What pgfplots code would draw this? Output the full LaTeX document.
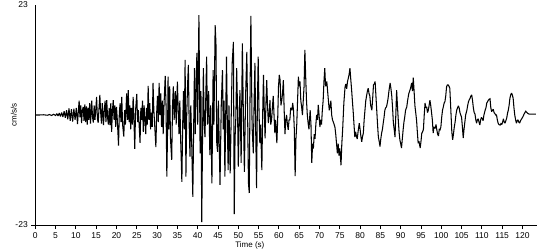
\documentclass[border=0pt]{standalone}
\usepackage{pgfplots}
\pgfplotsset{compat=1.18}
\usepackage{fontspec}
\setmainfont{Liberation Sans}
\begin{document}
\begin{tikzpicture}
\begin{axis}[
  scale only axis,
  width=501.4pt, height=220pt,
  xmin=0, xmax=123.5, ymin=-23, ymax=23,
  axis x line=bottom, axis y line=left,
  axis line style={-, line width=0.8pt},
  xtick={0,5,...,120},
  ytick={-23},
  yticklabels={-23},
  extra y ticks={23},
  extra y tick labels={23},
  extra y tick style={major tick length=0pt, yticklabel style={xshift=-4pt}},
  tick align=outside,
  major tick length=4pt,
  tick style={black, line width=0.8pt},
  every tick label/.append style={font=\fontsize{8.5}{9}\selectfont},
  /pgf/number format/assume math mode=true,
  xlabel={Time (s)},
  ylabel={cm/s/s},
  label style={font=\fontsize{8}{9}\selectfont},
  xlabel style={at={(axis description cs:0.428,0)}, anchor=center, yshift=-20pt},
  ylabel style={at={(axis description cs:0,0.5)}, anchor=center, yshift=21.5pt},
  clip=false,
]
\addplot[black, line width=1.05pt, line join=miter, miter limit=2] table {
0 0
1 0
2 0.05
3 -0.05
3.5 0.1
4 -0.1
4.5 0.15
5 -0.1
5.3 0.3
5.6 -0.2
5.9 0.4
6.2 -0.3
6.5 0.5
6.8 -0.4
7.1 0.8
7.4 -0.6
7.7 1.0
8.0 -0.9
8.3 1.4
8.6 -1.2
8.9 1.2
9.2 -1.4
9.5 1.3
9.8 -1.0
10.1 1.5
10.4 -1.9
10.6 0.8
10.8 3.0
11.0 -0.5
11.2 2.0
11.4 -1.7
11.6 1.0
11.8 1.7
12.0 -1.2
12.2 2.2
12.4 -1.5
12.6 1.8
12.8 -2.0
13.0 1.5
13.2 -1.0
13.4 2.5
13.6 -1.8
13.9 3.0
14.1 -0.5
14.3 -1.6
14.5 2.0
14.7 -1.0
14.9 1.2
15.1 3.8
15.3 -0.8
15.5 -1.6
15.7 1.5
15.9 4.2
16.1 0.5
16.3 -1.8
16.5 2.5
16.8 -2.1
17.0 1.0
17.2 3.0
17.4 -1.5
17.6 3.1
17.8 -0.5
18.0 -2.0
18.2 1.5
18.4 -2.1
18.6 2.5
18.8 -3.5
19.0 1.0
19.2 3.1
19.4 -1.0
19.6 2.0
19.8 -2.5
20.0 1.7
20.2 -1.0
20.5 -6.4
20.7 0.5
20.9 2.5
21.1 -1.5
21.3 3.8
21.5 -2.0
21.8 -4.5
22.0 1.0
22.2 -2.0
22.5 4.5
22.7 -1.0
22.9 5.2
23.1 -1.5
23.3 2.0
23.5 -3.0
23.7 1.5
23.9 -2.0
24.1 3.8
24.3 -1.0
24.5 -7.1
24.7 1.0
25.0 4.4
25.2 -1.5
25.4 1.0
25.6 -2.5
25.8 -5.8
26.0 1.5
26.2 -1.0
26.4 3.0
26.6 -3.5
26.8 2.0
27.0 -1.0
27.2 -4.0
27.4 1.5
27.6 -2.0
27.8 6.1
28.0 -1.0
28.2 2.5
28.4 -3.0
28.6 0.5
28.8 -2.5
29.0 6.7
29.2 1.0
29.4 -2.0
29.7 -6.7
29.9 0.5
30.1 4.0
30.3 -1.5
30.5 6.7
30.7 0.0
30.9 4.5
31.1 -2.5
31.3 3.0
31.5 -4.0
31.7 2.0
32.0 8.2
32.2 2.0
32.4 -12.9
32.6 -2.0
32.7 8.0
32.9 -3.0
33.1 6.0
33.3 -5.0
33.6 -9.4
33.8 2.0
34.0 6.0
34.2 -1.0
34.5 5.0
34.7 -2.0
35.0 7.0
35.2 1.0
35.4 -4.0
35.6 3.0
35.8 -5.0
36.1 -14.0
36.3 -2.0
36.5 5.0
36.7 -3.0
36.9 11.5
37.1 -12.9
37.3 0.0
37.5 6.0
37.7 10.5
37.9 -2.0
38.1 -8.7
38.3 2.0
38.5 -5.0
38.8 -17.1
39.0 -3.0
39.2 9.8
39.4 -4.0
39.6 6.0
39.8 13.0
40.0 -2.0
40.3 20.9
40.6 -8.0
40.8 5.0
41.0 -22.4
41.2 -4.0
41.4 9.8
41.6 -2.0
41.8 -4.6
42.0 4.0
42.2 12.2
42.4 -2.0
42.7 5.0
43.0 -8.4
43.2 2.0
43.5 -14.3
43.8 9.4
44.0 -2.0
44.3 18.8
44.5 15.0
44.7 -5.9
44.9 -7.7
45.1 3.0
45.3 -6.0
45.5 -14.6
45.8 2.0
46.1 9.4
46.3 -3.0
46.5 3.0
46.7 -12.9
46.9 0.0
47.1 12.2
47.3 -2.0
47.5 -11.5
47.7 2.0
48.0 -12.2
48.2 -3.0
48.5 10.9
48.8 15.3
49.0 -20.7
49.2 -5.0
49.4 -0.4
49.6 9.8
49.8 2.0
50.0 -10.8
50.2 -2.0
50.4 5.2
50.7 -10.0
51.0 15.0
51.2 3.0
51.5 -11.9
51.8 4.0
52.1 13.2
52.3 0.0
52.5 -14.2
52.7 -16.3
52.9 5.0
53.1 20.7
53.4 -2.5
53.7 -8.0
53.9 3.0
54.1 10.9
54.3 -4.0
54.5 -15.3
54.7 2.0
54.9 12.2
55.1 1.0
55.3 -5.9
55.5 -2.0
55.8 -11.5
56.0 0.0
56.2 8.4
56.4 1.0
56.6 -4.9
56.8 2.0
57.0 7.3
57.2 2.0
57.4 -1.7
57.6 0.0
57.8 3.1
58.0 -2.0
58.2 -1.0
58.4 1.5
58.6 4.0
58.8 0.0
59.0 -3.8
59.2 -1.0
59.5 -5.9
59.7 -1.0
59.9 5.9
60.1 8.4
60.3 7.3
60.5 2.0
60.7 3.0
60.9 4.5
61.1 7.3
61.3 1.0
61.5 -4.0
61.7 -1.0
61.9 0.0
62.1 -2.0
62.3 -3.1
62.5 -1.0
62.7 -1.0
62.9 1.5
63.2 1.0
63.4 2.5
63.6 1.0
63.8 -3.0
64.0 -12.8
64.2 -5.0
64.4 -2.0
64.6 3.0
64.8 8.0
65.0 6.0
65.2 7.0
65.4 3.0
65.6 1.7
65.8 0.0
66.0 3.0
66.2 6.0
66.4 13.6
66.6 8.0
66.8 3.0
67.0 0.0
67.2 -1.7
67.4 -3.0
67.7 1.0
67.9 -2.0
68.1 -10.0
68.3 -6.0
68.5 -7.0
68.7 -4.0
68.9 -5.0
69.1 -2.0
69.3 0.0
69.5 -1.0
69.7 2.1
69.9 0.0
70.1 -2.5
70.3 -1.0
70.5 -2.0
70.7 1.0
70.9 3.0
71.1 7.0
71.3 9.8
71.5 6.0
71.8 7.0
72.0 5.0
72.2 3.0
72.4 1.0
72.6 1.7
72.8 3.0
73.0 0.0
73.2 -1.0
73.5 -1.7
73.8 -2.5
74.0 -4.0
74.2 -6.0
74.4 -8.0
74.6 -6.0
74.8 -8.5
75.0 -7.0
75.3 -10.5
75.5 -6.0
75.7 -3.1
76.0 2.5
76.3 5.9
76.5 6.5
76.7 5.5
76.9 7.0
77.1 7.7
77.3 8.5
77.5 9.8
77.7 7.5
77.9 5.4
78.1 3.0
78.3 0.7
78.5 -2.0
78.7 -4.6
78.9 -3.5
79.1 -4.5
79.3 -5.0
79.5 -3.5
79.8 -1.7
80.0 -3.0
80.2 -4.5
80.4 -5.6
80.6 -4.5
80.8 -3.8
81.0 -1.0
81.2 1.0
81.4 3.0
81.6 4.0
81.8 5.0
82.0 5.6
82.2 4.5
82.4 4.0
82.6 2.0
82.9 1.0
83.1 3.5
83.3 6.3
83.5 6.5
83.7 7.0
83.9 4.0
84.1 1.0
84.3 -2.0
84.5 -4.6
84.7 -5.5
84.9 -6.6
85.1 -5.0
85.3 -3.8
85.5 -3.0
85.7 -1.7
85.9 -0.5
86.1 1.0
86.3 1.5
86.5 1.7
86.7 2.5
86.9 3.5
87.1 5.0
87.4 6.7
87.6 5.5
87.8 4.0
88.0 1.5
88.2 -1.7
88.4 -3.0
88.6 -4.6
88.8 0.0
89.0 5.2
89.2 2.0
89.4 -1.0
89.6 -3.5
89.8 -5.2
90.0 -6.0
90.2 -6.9
90.4 -5.0
90.6 -3.1
90.8 -1.5
91.0 -0.4
91.2 1.0
91.5 1.7
91.7 3.0
92.0 4.5
92.2 5.0
92.4 5.5
92.7 6.7
92.9 5.0
93.1 7.8
93.3 5.0
93.5 2.0
93.7 0.5
93.9 -1.0
94.1 -3.5
94.3 -5.9
94.5 -5.5
94.8 -6.9
95.0 -5.5
95.2 -3.8
95.4 -3.5
95.6 -3.0
95.8 0.0
96.0 2.5
96.2 1.5
96.4 1.7
96.6 0.5
96.8 1.0
97.0 2.0
97.2 3.1
97.4 2.0
97.6 0.5
97.8 -1.0
98.0 -3.8
98.2 -2.5
98.5 -2.8
98.7 -2.0
98.9 -3.1
99.1 -4.0
99.3 -4.4
99.5 -3.0
99.7 -3.1
99.9 -2.5
100.1 -0.5
100.3 1.0
100.5 1.7
100.7 2.5
100.9 2.8
101.1 4.0
101.3 5.9
101.5 6.3
101.7 6.3
101.9 6.0
102.1 5.6
102.3 2.0
102.6 -3.6
102.8 -5.2
103.0 -4.0
103.2 -2.5
103.4 -1.5
103.6 0.0
103.8 1.0
104.0 1.5
104.2 1.9
104.4 1.5
104.6 0.5
104.8 0.0
105.0 -0.5
105.2 -2.5
105.4 -4.8
105.6 -3.0
105.8 -1.5
106.0 0.0
106.3 1.0
106.5 2.0
106.7 2.8
106.9 3.2
107.1 3.5
107.3 4.0
107.5 4.2
107.7 3.0
107.9 1.5
108.1 0.5
108.3 0.2
108.5 -1.0
108.7 -1.7
108.9 -1.0
109.1 -0.8
109.3 -1.5
109.5 -2.1
109.7 -1.0
109.9 -0.5
110.1 -0.8
110.3 -1.2
110.5 0.0
110.8 1.0
111.0 1.5
111.2 2.5
111.4 2.8
111.6 3.1
111.8 3.3
112.0 3.4
112.2 1.5
112.4 0.7
112.6 1.0
112.8 1.2
113.0 0.5
113.2 0.3
113.4 0.0
113.6 0.0
113.8 -1.0
114.0 -1.7
114.2 -2.0
114.5 -2.1
114.7 -1.8
114.9 -2.0
115.1 -1.5
115.3 -0.8
115.5 -1.5
115.7 -1.7
115.9 -1.2
116.1 -0.7
116.3 0.3
116.5 1.0
116.7 2.0
116.9 3.5
117.1 4.2
117.3 4.6
117.5 4.2
117.7 3.5
117.9 1.5
118.1 0.0
118.3 -1.0
118.5 -1.7
118.7 -1.2
118.9 -1.0
119.1 -1.5
119.3 -1.7
119.5 -1.2
119.8 -0.8
120.0 -0.5
120.2 -0.2
120.4 0.2
120.6 0.5
120.8 0.8
121.0 0.6
121.2 0.4
121.4 0.3
121.6 0.2
121.8 0.2
123.3 0.2
};
\end{axis}
\pgfresetboundingbox
\path[use as bounding box] (-35.3pt,-25pt) rectangle (514.7pt,225pt);
\end{tikzpicture}
\end{document}
